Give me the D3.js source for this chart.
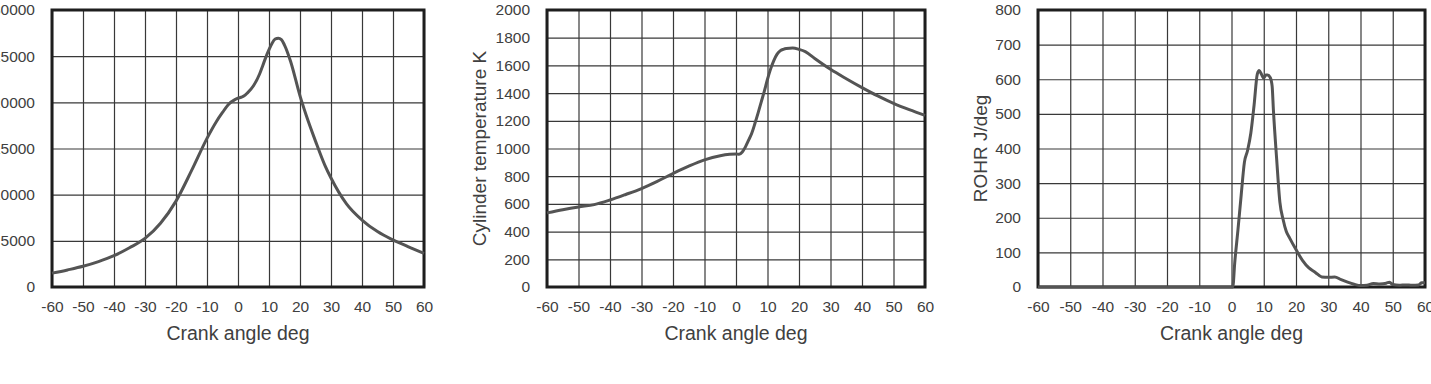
<!DOCTYPE html>
<html>
<head>
<meta charset="utf-8">
<script src="https://cdn.jsdelivr.net/npm/d3@7"></script>
<style>
  html, body { margin: 0; padding: 0; background: #fff; overflow: hidden; }
  svg { display: block; }
</style>
</head>
<body>
<svg id="chart" width="1431" height="384"></svg>
<script>
// crank angle ticks shared by all three panels
const angleTicks = [-60, -50, -40, -30, -20, -10, 0, 10, 20, 30, 40, 50, 60];

// panel 1: cylinder pressure (left labels are cut by the page edge)
const pressTicks = [0, 5000, 10000, 15000, 20000, 25000, 30000];
const pressAngle = [-60, -55, -50, -45, -40, -35, -30, -25, -20, -15, -10, -7, -5, -3, -1, 0, 1, 2, 3, 5, 7, 8, 9, 10, 11, 12, 13, 14, 15, 17, 20, 22, 25, 28, 30, 35, 40, 45, 50, 55, 60];
const pressVal = [1500, 1850, 2240, 2750, 3390, 4250, 5260, 6900, 9300, 12600, 16100, 17900, 18900, 19800, 20300, 20450, 20550, 20700, 21000, 21800, 23100, 24000, 24900, 25700, 26400, 26850, 26950, 26800, 26200, 24400, 20700, 18600, 15800, 13200, 11800, 9000, 7250, 6000, 5100, 4350, 3650];

// panel 2: cylinder temperature
const tempTicks = [0, 200, 400, 600, 800, 1000, 1200, 1400, 1600, 1800, 2000];
const tempAngle = [-60, -55, -50, -45, -40, -35, -30, -25, -20, -15, -10, -5, -2, 0, 1, 2, 3, 4, 5, 6, 7, 8, 9, 10, 11, 12, 13, 14, 15, 16, 18, 20, 22, 25, 30, 35, 40, 45, 50, 55, 60];
const tempVal = [535, 558, 578, 595, 628, 668, 711, 763, 819, 872, 918, 948, 958, 961, 958, 975, 1012, 1060, 1110, 1180, 1255, 1335, 1414, 1500, 1575, 1635, 1680, 1705, 1716, 1722, 1725, 1716, 1700, 1650, 1572, 1504, 1440, 1380, 1326, 1280, 1239];

// panel 3: rate of heat release
const rohrTicks = [0, 100, 200, 300, 400, 500, 600, 700, 800];
const rohrAngle = [-60, -30, 0, 0.4, 1, 2, 3, 4, 5, 6, 7, 8, 8.6, 9.4, 10, 10.6, 11.2, 12, 12.6, 13, 14, 15, 16, 17, 18, 20, 22, 24, 26, 28, 30, 32, 34, 36, 38, 40, 42, 44, 46, 48, 49, 50, 52, 54, 56, 58, 59, 60];
const rohrVal = [0, 0, 0, 0, 70, 165, 265, 360, 395, 445, 525, 615, 625, 612, 603, 612, 612, 605, 580, 510, 370, 245, 195, 160, 142, 108, 77, 55, 42, 29, 28, 29, 21, 14, 8, 4, 5, 10, 9, 11, 14, 7, 5, 6, 5, 6, 12, 12];

const panels = [
  { left: 52, right: 424, ticks: pressTicks, xs: pressAngle, ys: pressVal, title: null, titleX: 0 },
  { left: 547, right: 925, ticks: tempTicks, xs: tempAngle, ys: tempVal, title: 'Cylinder temperature K', titleX: 479 },
  { left: 1038, right: 1425, ticks: rohrTicks, xs: rohrAngle, ys: rohrVal, title: 'ROHR J/deg', titleX: 980 }
];

const plotTop = 10, plotBottom = 287;
const textColor = '#404040';
const font = '"Liberation Sans", Arial, sans-serif';
const plain = d => String(d); // keep ASCII hyphen for negatives

const svg = d3.select('#chart');

panels.forEach(p => {
  const x = d3.scaleLinear().domain([-60, 60]).range([p.left, p.right]);
  const y = d3.scaleLinear().domain([0, d3.max(p.ticks)]).range([plotBottom, plotTop]);
  const g = svg.append('g');

  // grid lines
  g.append('g')
    .attr('transform', `translate(0, ${plotBottom})`)
    .call(d3.axisBottom(x).tickValues(angleTicks).tickSize(-(plotBottom - plotTop)).tickFormat(''))
    .call(a => a.select('.domain').remove())
    .selectAll('line').attr('stroke', '#383838').attr('stroke-width', 1.2);

  g.append('g')
    .attr('transform', `translate(${p.left}, 0)`)
    .call(d3.axisLeft(y).tickValues(p.ticks).tickSize(-(p.right - p.left)).tickFormat(''))
    .call(a => a.select('.domain').remove())
    .selectAll('line').attr('stroke', '#383838').attr('stroke-width', 1.2);

  // tick labels
  g.append('g')
    .attr('transform', `translate(0, ${plotBottom})`)
    .call(d3.axisBottom(x).tickValues(angleTicks).tickSize(0).tickPadding(14).tickFormat(plain))
    .call(a => a.select('.domain').remove())
    .selectAll('text')
    .attr('fill', textColor).style('font', `15.5px ${font}`);

  g.append('g')
    .attr('transform', `translate(${p.left}, 0)`)
    .call(d3.axisLeft(y).tickValues(p.ticks).tickSize(0).tickPadding(17).tickFormat(plain))
    .call(a => a.select('.domain').remove())
    .selectAll('text')
    .attr('fill', textColor).style('font', `15.5px ${font}`);

  // frame
  g.append('rect')
    .attr('x', p.left).attr('y', plotTop)
    .attr('width', p.right - p.left).attr('height', plotBottom - plotTop)
    .attr('fill', 'none').attr('stroke', '#1e1e1e').attr('stroke-width', 3);

  // curve
  const pts = p.xs.map((a, i) => [a, p.ys[i]]);
  g.append('path')
    .datum(pts)
    .attr('fill', 'none')
    .attr('stroke', '#545454')
    .attr('stroke-width', 3)
    .attr('stroke-linejoin', 'round')
    .attr('d', d3.line().x(d => x(d[0])).y(d => y(d[1])).curve(d3.curveMonotoneX));

  // axis titles
  g.append('text')
    .attr('x', (p.left + p.right) / 2).attr('y', 340)
    .attr('text-anchor', 'middle')
    .attr('fill', textColor).style('font', `19.5px ${font}`)
    .text('Crank angle deg');

  if (p.title) {
    g.append('text')
      .attr('transform', `translate(${p.titleX}, ${(plotTop + plotBottom) / 2}) rotate(-90)`)
      .attr('text-anchor', 'middle')
      .attr('dy', '0.35em')
      .attr('fill', textColor).style('font', `19px ${font}`)
      .text(p.title);
  }
});
</script>
</body>
</html>
